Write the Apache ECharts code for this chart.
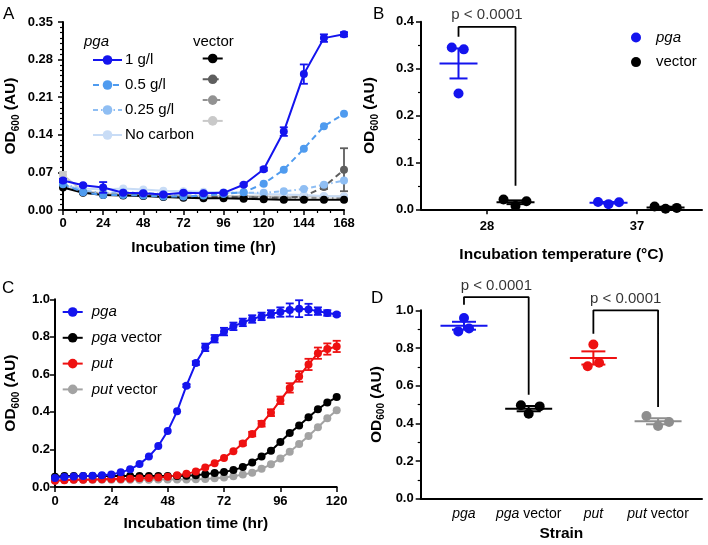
<!DOCTYPE html>
<html><head><meta charset="utf-8">
<script src="https://cdn.jsdelivr.net/npm/echarts@6.0.0/dist/echarts.min.js"></script>
<style>html,body{margin:0;padding:0;background:#fff}#c{width:708px;height:545px}</style>
</head><body><div id="c"></div>
<script>
// ---------- Panel A data ----------
const hoursA = [0,12,24,36,48,60,72,84,96,108,120,132,144,156,168];
const pga1 = [0.055,0.046,0.042,0.032,0.031,0.029,0.032,0.031,0.032,0.047,0.076,0.146,0.253,0.320,0.327];
const pga1Err = [0.003,0.002,0.010,0.002,0.002,0.002,0.002,0.002,0.002,0.002,0.003,0.008,0.018,0.007,0.004];
const pga05 = [0.048,0.033,0.028,0.028,0.027,0.025,0.025,0.027,0.030,0.033,0.049,0.075,0.114,0.156,0.179];
const pga025 = [0.050,0.036,0.032,0.033,0.032,0.030,0.030,0.031,0.032,0.032,0.032,0.035,0.039,0.047,0.055];
const pgaNoC = [0.045,0.040,0.038,0.040,0.038,0.036,0.035,0.034,0.033,0.032,0.030,0.029,0.028,0.026,0.025];
const vec1 = [0.042,0.032,0.028,0.027,0.026,0.024,0.023,0.022,0.022,0.021,0.020,0.019,0.019,0.019,0.019];
const vec05 = [0.046,0.033,0.029,0.028,0.027,0.025,0.024,0.024,0.024,0.024,0.023,0.023,0.025,0.043,0.075];
const vec05Err = [0,0,0,0,0,0,0,0,0,0,0,0,0,0.004,0.040];
const vec025 = [0.048,0.034,0.030,0.029,0.028,0.026,0.025,0.025,0.025,0.024,0.024,0.023,0.023,0.023,0.022];
const vecNoC = [0.065,0.035,0.031,0.030,0.029,0.027,0.026,0.026,0.026,0.026,0.025,0.025,0.025,0.025,0.025];
const vecNoCErr = [0.006,0,0,0,0,0,0,0,0,0,0,0,0,0,0];
const namesA = ['1 g/l','0.5 g/l','0.25 g/l','No carbon'];

// ---------- Panel B data ----------
const tempsB = ['28','37'];
const pgaRepsB = [[0.345,0.247,0.341],[0.0155,0.011,0.015]];   // left, centre, right
const pgaMeanB = [0.311,0.014];
const pgaSemB = [0.032,0.0015];
const vecRepsB = [[0.021,0.007,0.017],[0.006,0.001,0.003]];
const vecMeanB = [0.015,0.004];
const vecSemB = [0.004,0.0015];
const pTextB = 'p < 0.0001';

// ---------- Panel C data ----------
const hoursC = [0,4,8,12,16,20,24,28,32,36,40,44,48,52,56,60,64,68,72,76,80,84,88,92,96,100,104,108,112,116,120];
const pgaC = [0.048,0.053,0.056,0.058,0.060,0.063,0.067,0.078,0.094,0.122,0.162,0.218,0.298,0.403,0.540,0.660,0.744,0.790,0.828,0.856,0.877,0.895,0.909,0.922,0.932,0.943,0.950,0.946,0.937,0.927,0.919];
const pgaCErr = [0,0,0,0,0,0,0,0,0,0,0,0,0,0,0.008,0.01,0.02,0.02,0.02,0.02,0.02,0.02,0.02,0.02,0.025,0.035,0.045,0.03,0.02,0.015,0.008];
const pgaVecC = [0.055,0.058,0.058,0.058,0.058,0.058,0.058,0.058,0.058,0.058,0.058,0.058,0.059,0.059,0.060,0.063,0.068,0.074,0.080,0.090,0.106,0.131,0.163,0.193,0.240,0.288,0.328,0.372,0.414,0.450,0.479];
const putC = [0.033,0.036,0.038,0.039,0.040,0.041,0.042,0.043,0.044,0.046,0.048,0.051,0.055,0.062,0.070,0.082,0.104,0.127,0.155,0.191,0.232,0.282,0.337,0.396,0.462,0.528,0.589,0.653,0.713,0.735,0.749];
const putCErr = [0,0,0,0,0,0,0,0,0,0,0,0,0,0,0,0,0,0,0,0,0.01,0.012,0.015,0.018,0.02,0.025,0.028,0.03,0.03,0.03,0.03];
const putVecC = [0.035,0.037,0.038,0.038,0.038,0.039,0.039,0.039,0.039,0.039,0.039,0.040,0.040,0.040,0.040,0.041,0.043,0.046,0.050,0.057,0.066,0.076,0.097,0.121,0.152,0.188,0.229,0.272,0.318,0.366,0.409];
const namesC = ['pga','pga vector','put','put vector'];

// ---------- Panel D data ----------
const strainsD = ['pga','pga vector','put','put vector'];
const repsD = [[0.888,0.959,0.903],[0.496,0.451,0.490],[0.703,0.818,0.722],[0.439,0.386,0.407]];
const meanD = [0.918,0.478,0.747,0.411];
const semD = [0.021,0.014,0.035,0.016];
const pTextD = ['p < 0.0001','p < 0.0001'];

// ---------- styling / layout ----------
const FONT = '"Liberation Sans", Arial, Helvetica, sans-serif';
const BLUE = '#1414ee', B05 = '#4f9bef', B025 = '#8fbef3', BNC = '#c8dcf6';
const K1 = '#000000', K05 = '#5e5e5e', K025 = '#929292', KNC = '#c9c9c9';
const RED = '#ee1111', GRAY = '#a3a3a3', GRAYD = '#8e8e8e';

const jitterB = [[-0.045,0,0.035],[-0.08,0,0.073],[-0.07,0,0.07],[-0.073,0,0.075]];
const groupOffB = [-0.19, 0.19];
const jitterD = [[-0.088,0,0.078],[-0.12,0,0.17],[-0.088,0,0.088],[-0.18,0,0.17]];
// bracket anchors (data space)
const bracketB = {top:0.389, leftBot:0.368, rightBot:0.05};
const bracketD = [{a:1,b:2,top:1.07,leftBot:1.03,rightBot:0.552},{a:3,b:4,top:1.0,leftBot:0.876,rightBot:0.487}];

const tickLbl = {color:'#000', fontFamily:FONT, fontWeight:'bold', fontSize:13};
const nameStyle = {color:'#000', fontFamily:FONT, fontWeight:'bold', fontSize:15.5};
const yNameStyle = {color:'#000', fontFamily:FONT, fontWeight:'bold', fontSize:15.5, lineHeight:20,
  rich:{sub:{fontFamily:FONT, fontWeight:'bold', fontSize:10, color:'#000', verticalAlign:'bottom', lineHeight:14}}};
const axLine = {show:true, onZero:false, lineStyle:{color:'#000', width:2}};
const axTick = {show:true, inside:false, length:5, lineStyle:{color:'#000', width:1.5}};

function yAxis(grid, max, interval, digits, minor, gap, margin) {
  return {type:'value', gridIndex:grid, min:0, max:max, interval:interval,
    name:'OD{sub|600} (AU)', nameLocation:'middle', nameGap:gap, nameTextStyle:yNameStyle,
    axisLine:axLine, axisTick:axTick,
    minorTick:{show:minor>0, splitNumber:minor||5, length:3, lineStyle:{color:'#000', width:1.2}},
    splitLine:{show:false}, minorSplitLine:{show:false},
    axisLabel:Object.assign({margin:margin, formatter:v=>v.toFixed(digits)}, tickLbl)};
}

function errRender(color, capHalf) {
  return function(params, api) {
    const x = api.value(0), y = api.value(1), e = api.value(2);
    if (!e) return {type:'group', children:[]};
    const t = api.coord([x, y+e]), b = api.coord([x, y-e]);
    const st = {stroke:color, lineWidth:1.8};
    return {type:'group', children:[
      {type:'line', shape:{x1:t[0],y1:t[1],x2:b[0],y2:b[1]}, style:st},
      {type:'line', shape:{x1:t[0]-capHalf,y1:t[1],x2:t[0]+capHalf,y2:t[1]}, style:st},
      {type:'line', shape:{x1:b[0]-capHalf,y1:b[1],x2:b[0]+capHalf,y2:b[1]}, style:st}]};
  };
}
function meanRender(color, meanHalf, capHalf) {
  return function(params, api) {
    const x = api.value(0), m = api.value(1), e = api.value(2);
    const c = api.coord([x, m]), t = api.coord([x, m+e]), b = api.coord([x, m-e]);
    const st = {stroke:color, lineWidth:2};
    return {type:'group', children:[
      {type:'line', shape:{x1:c[0]-meanHalf,y1:c[1],x2:c[0]+meanHalf,y2:c[1]}, style:st},
      {type:'line', shape:{x1:t[0],y1:t[1],x2:b[0],y2:b[1]}, style:st},
      {type:'line', shape:{x1:t[0]-capHalf,y1:t[1],x2:t[0]+capHalf,y2:t[1]}, style:st},
      {type:'line', shape:{x1:b[0]-capHalf,y1:b[1],x2:b[0]+capHalf,y2:b[1]}, style:st}]};
  };
}

const series = [];
function lineSeries(name, xs, ys, color, type, xi, z) {
  series.push({name:name, type:'line', xAxisIndex:xi, yAxisIndex:xi, data:xs.map((x,i)=>[x,ys[i]]),
    symbol:'circle', symbolSize:8, showAllSymbol:true, z:z,
    itemStyle:{color:color, opacity:1}, lineStyle:{color:color, width:2, type:type}, emphasis:{disabled:true}, animation:false});
}
function errSeries(xs, ys, es, color, xi, cap, z) {
  series.push({type:'custom', xAxisIndex:xi, yAxisIndex:xi, z:z, clip:false,
    data:xs.map((x,i)=>[x,ys[i],es[i]]), encode:{x:0,y:1}, renderItem:errRender(color, cap), animation:false, silent:true});
}

// Panel A series (grid 0)
lineSeries('Av:'+namesA[3], hoursA, vecNoC, KNC, 'solid', 0, 2);
lineSeries('Av:'+namesA[2], hoursA, vec025, K025, [5,3,1.5,3], 0, 2);
lineSeries('Av:'+namesA[1], hoursA, vec05, K05, [6,4], 0, 2);
lineSeries('Av:'+namesA[0], hoursA, vec1, K1, 'solid', 0, 3);
lineSeries('Ap:'+namesA[3], hoursA, pgaNoC, BNC, 'solid', 0, 2);
lineSeries('Ap:'+namesA[2], hoursA, pga025, B025, [5,3,1.5,3], 0, 2);
lineSeries('Ap:'+namesA[1], hoursA, pga05, B05, [6,4], 0, 3);
lineSeries('Ap:'+namesA[0], hoursA, pga1, BLUE, 'solid', 0, 4);
errSeries(hoursA, vecNoC, vecNoCErr, KNC, 0, 4, 2);
errSeries(hoursA, vec05, vec05Err, K05, 0, 4, 2);
errSeries(hoursA, pga1, pga1Err, BLUE, 0, 4, 4);

// Panel C series (grid 2)
lineSeries('C:'+namesC[3], hoursC, putVecC, GRAY, 'solid', 2, 2);
lineSeries('C:'+namesC[1], hoursC, pgaVecC, K1, 'solid', 2, 3);
lineSeries('C:'+namesC[2], hoursC, putC, RED, 'solid', 2, 3);
lineSeries('C:'+namesC[0], hoursC, pgaC, BLUE, 'solid', 2, 4);
errSeries(hoursC, putC, putCErr, RED, 2, 4, 3);
errSeries(hoursC, pgaC, pgaCErr, BLUE, 2, 4, 4);

// Panel B series (grid 1)
function repPoints(reps, catIdx, off, jit) {
  return reps[catIdx].map((v,k)=>[catIdx+1+off+jit[k], v]);
}
series.push({name:'B:pga', type:'scatter', xAxisIndex:1, yAxisIndex:1, symbolSize:10, itemStyle:{color:BLUE, opacity:1}, animation:false,
  data:[].concat(repPoints(pgaRepsB,0,groupOffB[0],jitterB[0]), repPoints(pgaRepsB,1,groupOffB[0],jitterB[2]))});
series.push({name:'B:vector', type:'scatter', xAxisIndex:1, yAxisIndex:1, symbolSize:10, itemStyle:{color:K1, opacity:1}, animation:false,
  data:[].concat(repPoints(vecRepsB,0,groupOffB[1],jitterB[1]), repPoints(vecRepsB,1,groupOffB[1],jitterB[3]))});
series.push({type:'custom', xAxisIndex:1, yAxisIndex:1, z:3, animation:false, silent:true, encode:{x:0,y:1},
  data:tempsB.map((t,i)=>[i+1+groupOffB[0], pgaMeanB[i], pgaSemB[i]]), renderItem:meanRender(BLUE, 19, 9)});
series.push({type:'custom', xAxisIndex:1, yAxisIndex:1, z:3, animation:false, silent:true, encode:{x:0,y:1},
  data:tempsB.map((t,i)=>[i+1+groupOffB[1], vecMeanB[i], vecSemB[i]]), renderItem:meanRender(K1, 19, 9)});
const bx0 = 1+groupOffB[0], bx1 = 1+groupOffB[1];
series.push({type:'line', xAxisIndex:1, yAxisIndex:1, clip:false, symbol:'none', animation:false, silent:true,
  lineStyle:{color:'#000', width:1.8},
  data:[[bx0,bracketB.leftBot],[bx0,bracketB.top],[bx1,bracketB.top],[bx1,bracketB.rightBot]]});
series.push({type:'scatter', xAxisIndex:1, yAxisIndex:1, clip:false, symbolSize:0, animation:false, silent:true,
  label:{show:true, position:'top', distance:4, formatter:pTextB, color:'#000', fontFamily:FONT, fontSize:15},
  data:[[(bx0+bx1)/2, bracketB.top]]});

// Panel D series (grid 3)
const colD = [BLUE, K1, RED, GRAYD];
strainsD.forEach((s,i)=>{
  series.push({type:'scatter', xAxisIndex:3, yAxisIndex:3, symbolSize:10, itemStyle:{color:colD[i], opacity:1}, animation:false,
    data:repPoints(repsD, i, 0, jitterD[i])});
  series.push({type:'custom', xAxisIndex:3, yAxisIndex:3, z:3, animation:false, silent:true, encode:{x:0,y:1},
    data:[[i+1, meanD[i], semD[i]]], renderItem:meanRender(colD[i], 23.5, 12)});
});
bracketD.forEach((br,j)=>{
  series.push({type:'line', xAxisIndex:3, yAxisIndex:3, clip:false, symbol:'none', animation:false, silent:true,
    lineStyle:{color:'#000', width:1.8},
    data:[[br.a,br.leftBot],[br.a,br.top],[br.b,br.top],[br.b,br.rightBot]]});
  series.push({type:'scatter', xAxisIndex:3, yAxisIndex:3, clip:false, symbolSize:0, animation:false, silent:true,
    label:{show:true, position:'top', distance:4, formatter:pTextD[j], color:'#000', fontFamily:FONT, fontSize:15},
    data:[[(br.a+br.b)/2, br.top]]});
});

const legTxt = {color:'#000', fontFamily:FONT, fontSize:15, rich:{i:{fontStyle:'italic', color:'#000', fontFamily:FONT, fontSize:15}}};

const option = {
  animation:false,
  textStyle:{fontFamily:FONT},
  grid:[
    {left:61, top:22, width:283, height:188},
    {left:421, top:21.7, width:281, height:187.6},
    {left:53.3, top:299.3, width:283.4, height:187.7},
    {left:420.7, top:310.3, width:281.3, height:188.4}
  ],
  xAxis:[
    {type:'value', gridIndex:0, min:0, max:168, interval:24, name:'Incubation time (hr)', nameLocation:'middle', nameGap:30,
     nameTextStyle:nameStyle, axisLine:axLine, axisTick:axTick,
     minorTick:{show:true, splitNumber:3, length:3, lineStyle:{color:'#000', width:1.2}},
     splitLine:{show:false}, minorSplitLine:{show:false}, axisLabel:Object.assign({margin:7}, tickLbl)},
    {type:'value', gridIndex:1, min:0.56, max:2.433, name:'Incubation temperature (°C)', nameLocation:'middle', nameGap:37,
     nameTextStyle:nameStyle, axisLine:axLine,
     axisTick:Object.assign({customValues:[1,2]}, axTick), splitLine:{show:false},
     axisLabel:Object.assign({margin:11, customValues:[1,2], formatter:v=>tempsB[Math.round(v)-1]}, tickLbl)},
    {type:'value', gridIndex:2, min:0, max:120, interval:24, name:'Incubation time (hr)', nameLocation:'middle', nameGap:29,
     nameTextStyle:nameStyle, axisLine:axLine, axisTick:axTick, splitLine:{show:false},
     axisLabel:Object.assign({margin:8}, tickLbl)},
    {type:'value', gridIndex:3, min:0.331, max:4.679, name:'Strain', nameLocation:'middle', nameGap:27,
     nameTextStyle:nameStyle, axisLine:axLine, axisTick:{show:false}, splitLine:{show:false},
     axisLabel:{margin:8, customValues:[1,2,3,4], color:'#000', fontFamily:FONT, fontSize:14,
       formatter:v=>{const s=strainsD[Math.round(v)-1]; return s.indexOf(' ')>0 ? '{i|'+s.split(' ')[0]+'} '+s.split(' ')[1] : '{i|'+s+'}';},
       rich:{i:{fontStyle:'italic', color:'#000', fontFamily:FONT, fontSize:14}}}}
  ],
  yAxis:[
    yAxis(0, 0.35, 0.07, 2, 7, 42, 10),
    yAxis(1, 0.4, 0.1, 1, 2, 41, 7),
    yAxis(2, 1.0, 0.2, 1, 0, 34, 5),
    yAxis(3, 1.0, 0.2, 1, 2, 34, 7)
  ],
  legend:[
    {left:92, top:52.5, padding:0, orient:'vertical', itemWidth:29, itemHeight:12, itemGap:10, selectedMode:false,
     data:namesA.map(n=>'Ap:'+n), formatter:n=>n.slice(3), textStyle:Object.assign({padding:[0,0,0,-2]}, legTxt)},
    {left:201.7, top:52.5, padding:0, orient:'vertical', itemWidth:20, itemHeight:12, itemGap:10, selectedMode:false,
     data:namesA.map(n=>'Av:'+n), formatter:()=>'', textStyle:legTxt},
    {left:631, top:30, padding:0, orient:'vertical', itemWidth:10, itemHeight:10, itemGap:9.6, selectedMode:false, icon:'circle',
     data:['B:pga','B:vector'], formatter:n=>n==='B:pga'?'{i|pga}':'vector', textStyle:Object.assign({padding:[0,0,0,10]}, legTxt)},
    {left:61.7, top:304.5, padding:0, orient:'vertical', itemWidth:20, itemHeight:12, itemGap:10.8, selectedMode:false,
     data:namesC.map(n=>'C:'+n), formatter:n=>{const s=n.slice(2); return s.indexOf(' ')>0 ? '{i|'+s.split(' ')[0]+'} '+s.split(' ')[1] : '{i|'+s+'}';},
     textStyle:Object.assign({padding:[0,0,0,4]}, legTxt)}
  ],
  graphic:[
    {type:'text', left:3, top:6, style:{text:'A', font:'17px '+FONT, fill:'#000'}},
    {type:'text', left:373, top:6, style:{text:'B', font:'17px '+FONT, fill:'#000'}},
    {type:'text', left:2, top:280, style:{text:'C', font:'17px '+FONT, fill:'#000'}},
    {type:'text', left:371, top:290, style:{text:'D', font:'17px '+FONT, fill:'#000'}},
    {type:'text', left:84, top:34, style:{text:'pga', font:'italic 15px '+FONT, fill:'#000'}},
    {type:'text', left:193, top:34, style:{text:'vector', font:'15px '+FONT, fill:'#000'}}
  ],
  series:series
};
const chart = echarts.init(document.getElementById('c'), null, {renderer:'canvas'});
chart.setOption(option);
</script></body></html>
